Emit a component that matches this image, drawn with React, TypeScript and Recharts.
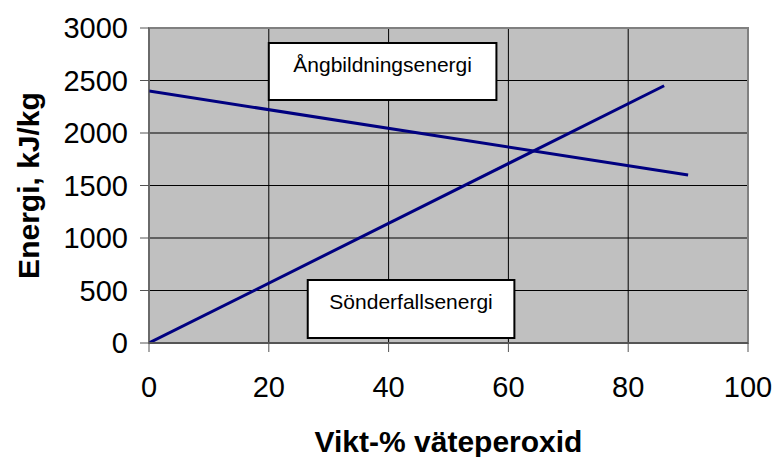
import React from "react";
import {
  LineChart,
  Line,
  XAxis,
  YAxis,
  CartesianGrid,
  ReferenceArea,
  Label,
} from "recharts";

// Energi mot vikt-% väteperoxid
const xTicks = [0, 20, 40, 60, 80, 100];
const yTicks = [0, 500, 1000, 1500, 2000, 2500, 3000];

const angX = [0, 90];
const angY = [2400, 1600];
const sondX = [0, 86];
const sondY = [0, 2450];

const angData = angX.map((x, i) => ({ x, y: angY[i] }));
const sondData = sondX.map((x, i) => ({ x, y: sondY[i] }));

const FONT = "'Liberation Sans', Arial, sans-serif";

const BoxLabel = ({ viewBox, text }: any) => {
  const cx = viewBox.x + viewBox.width / 2;
  const cy = viewBox.y + viewBox.height / 2 - 7;
  return (
    <text
      x={cx}
      y={cy}
      textAnchor="middle"
      dominantBaseline="central"
      fontFamily={FONT}
      fontSize={21}
      fill="#000"
    >
      {text}
    </text>
  );
};

const YTitle = ({ viewBox }: any) => {
  const x = viewBox.x + 28;
  const y = viewBox.y + viewBox.height / 2;
  return (
    <text
      x={x}
      y={y}
      transform={`rotate(-90, ${x}, ${y})`}
      textAnchor="middle"
      dominantBaseline="central"
      fontFamily={FONT}
      fontSize={30}
      fontWeight="bold"
      fill="#000"
    >
      Energi, kJ/kg
    </text>
  );
};

const App: React.FC = () => {
  return (
    <div style={{ position: "absolute", left: 0, top: 0, background: "#fff" }}>
      <LineChart
        width={776}
        height={457}
        margin={{ top: 28, right: 28, left: 0, bottom: 0 }}
      >
        <CartesianGrid stroke="#000" fill="#C0C0C0" fillOpacity={1} />
        <XAxis
          type="number"
          dataKey="x"
          domain={[0, 100]}
          ticks={xTicks}
          allowDataOverflow
          height={114}
          tickSize={9}
          tickMargin={24}
          tick={{ fill: "#000", fontSize: 29, fontFamily: FONT }}
          axisLine={{ stroke: "#555", strokeWidth: 2 }}
          tickLine={{ stroke: "#555" }}
        >
          <Label
            value="Vikt-% väteperoxid"
            position="insideBottom"
            offset={5}
            style={{ fontSize: 30, fontWeight: "bold", fontFamily: FONT, fill: "#000" }}
          />
        </XAxis>
        <YAxis
          type="number"
          dataKey="y"
          domain={[0, 3000]}
          ticks={yTicks}
          width={149}
          tickSize={9}
          tickMargin={12}
          tick={{ fill: "#000", fontSize: 29, fontFamily: FONT }}
          axisLine={{ stroke: "#555" }}
          tickLine={{ stroke: "#555" }}
        >
          <Label content={<YTitle />} />
        </YAxis>
        <ReferenceArea
          x1={0}
          x2={100}
          y1={0}
          y2={3000}
          fill="none"
          stroke="#808080"
          strokeWidth={2}
        />
        <Line
          data={angData}
          dataKey="y"
          stroke="#000080"
          strokeWidth={3}
          dot={false}
          isAnimationActive={false}
        />
        <Line
          data={sondData}
          dataKey="y"
          stroke="#000080"
          strokeWidth={3}
          dot={false}
          isAnimationActive={false}
        />
        <ReferenceArea
          x1={20}
          x2={58}
          y1={2314}
          y2={2857}
          fill="#fff"
          fillOpacity={1}
          stroke="#000"
          strokeWidth={2}
          label={<BoxLabel text="Ångbildningsenergi" />}
        />
        <ReferenceArea
          x1={26.5}
          x2={61}
          y1={48}
          y2={600}
          fill="#fff"
          fillOpacity={1}
          stroke="#000"
          strokeWidth={2}
          label={<BoxLabel text="Sönderfallsenergi" />}
        />
      </LineChart>
    </div>
  );
};

export default App;
